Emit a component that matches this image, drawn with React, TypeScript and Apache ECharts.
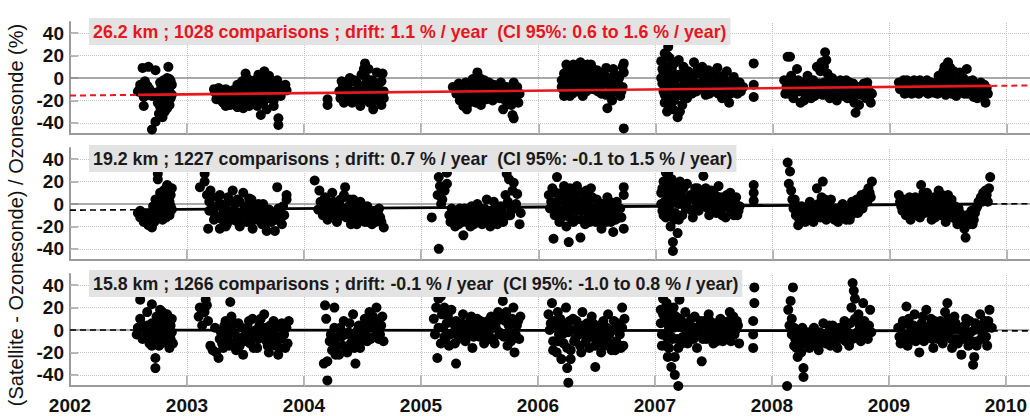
import React, { useEffect, useRef } from "react";
import * as echarts from "echarts";

// Axis ticks
const years = [2002, 2003, 2004, 2005, 2006, 2007, 2008, 2009, 2010];
const percentTicks = [-40, -20, 0, 20, 40];
const dottedPercents = [-40, -20, 20, 40];
const dottedYears = [2003, 2004, 2005, 2006, 2007, 2008, 2009, 2010];

// Panel captions and fitted drift per altitude
const panelLabels = [
  "26.2 km ; 1028 comparisons ; drift: 1.1 % / year  (CI 95%: 0.6 to 1.6 % / year)",
  "19.2 km ; 1227 comparisons ; drift: 0.7 % / year  (CI 95%: -0.1 to 1.5 % / year)",
  "15.8 km ; 1266 comparisons ; drift: -0.1 % / year  (CI 95%: -1.0 to 0.8 % / year)",
];
const driftPerYear = [1.1, 0.7, -0.1];
const trendAt2002 = [-15.7, -5.5, 0.0];
const fitStart = [2002.58, 2002.58, 2002.56];
const fitEnd = [2009.87, 2009.87, 2009.88];

// Relative differences (%) at 26.2 km
const diff26km: [number, number][] = [
  [2002.62,9],[2002.67,10],[2002.73,7],[2002.84,10],[2002.6,-6],[2002.61,-13],[2002.63,-25],[2002.68,-10],[2002.7,-46],[2002.73,-39],
  [2002.74,-13],[2002.77,-4],[2002.77,-18],[2002.78,-30],[2002.79,-35],[2002.8,-14],[2002.83,0],[2002.84,-8],[2002.86,-3],[2002.86,-18],
  [2002.83,-27],[2002.8,-24],[2002.76,-32],[2002.66,-15],[2002.58,-12],[2002.82,-20],[2002.85,-12],[2002.78,-8],[2002.8,-2],[2002.75,-22],
  [2002.87,-6],[2002.7,-16],[2002.64,-3],
  [2002.77,-26],[2002.79,-20],[2002.81,-10],[2002.83,-14],[2002.85,-24],[2002.87,-15],[2002.81,-30],[2002.83,-5],[2002.79,-12],[2002.85,-1],
  [2002.6,-9],[2002.63,-17],[2002.66,-7],
  [2003.23,-10],[2003.24,-13],[2003.26,-16],[2003.28,-12],[2003.3,-15],[2003.32,-18],[2003.34,-13],[2003.36,-20],[2003.38,-16],[2003.4,-22],
  [2003.42,-12],[2003.44,-18],[2003.45,-24],[2003.46,-8],[2003.48,-14],[2003.49,-2],[2003.5,4],[2003.51,-19],[2003.52,-10],[2003.53,-25],
  [2003.55,-6],[2003.56,-15],[2003.58,-2],[2003.58,-21],[2003.6,-10],[2003.61,3],[2003.62,-16],[2003.63,-33],[2003.64,-6],[2003.65,-22],
  [2003.66,6],[2003.67,-12],[2003.68,-28],[2003.69,0],[2003.7,-18],[2003.71,-8],[2003.73,-3],[2003.74,-25],[2003.76,-12],[2003.77,-2],
  [2003.78,-36],[2003.78,-42],[2003.8,-16],[2003.82,-8],[2003.84,-6],[2003.85,-11],[2003.29,-20],[2003.47,-21],[2003.57,-12],[2003.43,-6],
  [2003.25,-19],[2003.27,-9],[2003.31,-22],[2003.33,-10],[2003.35,-16],[2003.37,-24],[2003.39,-11],[2003.41,-18],[2003.43,-26],[2003.45,-15],
  [2003.47,-3],[2003.5,-17],[2003.52,-1],[2003.54,-21],[2003.55,-11],[2003.57,-6],[2003.59,-17],[2003.6,-25],[2003.62,-1],[2003.64,-13],
  [2003.66,-17],[2003.68,-7],[2003.7,2],[2003.72,-13],[2003.74,-20],[2003.75,-6],[2003.63,-9],[2003.48,-27],[2003.33,-25],
  [2004.2,-19],[2004.2,-24],
  [2004.3,-12],[2004.31,-18],[2004.33,-8],[2004.35,-15],[2004.36,-20],[2004.38,-5],[2004.4,-12],[2004.41,-22],[2004.43,-2],[2004.44,-16],
  [2004.46,-9],[2004.47,-20],[2004.49,3],[2004.5,-13],[2004.52,13],[2004.52,-6],[2004.54,-18],[2004.55,8],[2004.56,-10],[2004.58,-2],
  [2004.59,-28],[2004.6,-15],[2004.62,5],[2004.63,-8],[2004.65,-20],[2004.66,-3],[2004.67,4],[2004.68,-12],[2004.48,-25],[2004.39,0],
  [2004.32,-3],[2004.34,-22],[2004.37,-10],[2004.4,-3],[2004.42,-17],[2004.45,-4],[2004.48,-14],[2004.5,-20],[2004.51,8],[2004.53,0],
  [2004.56,-22],[2004.57,-14],[2004.6,-4],[2004.61,-20],[2004.64,-14],[2004.66,-24],[2004.68,-18],
  [2005.27,-8],[2005.3,-14],[2005.33,-20],[2005.35,-10],[2005.36,-25],[2005.38,-4],[2005.4,-16],[2005.41,-22],[2005.43,-8],[2005.44,-1],
  [2005.46,-18],[2005.47,-12],[2005.48,5],[2005.5,-6],[2005.51,-24],[2005.53,-14],[2005.54,-2],[2005.56,-19],[2005.57,-9],[2005.58,-4],
  [2005.6,-15],[2005.62,-6],[2005.65,-10],[2005.67,-18],[2005.68,-4],[2005.7,-28],[2005.71,-14],[2005.73,-8],[2005.74,-22],[2005.76,-12],
  [2005.78,-33],[2005.79,-36],[2005.8,-18],[2005.82,-8],[2005.84,-14],[2005.39,-28],
  [2005.32,-5],[2005.34,-17],[2005.37,-13],[2005.39,-20],[2005.42,-13],[2005.45,-4],[2005.47,-22],[2005.49,-17],[2005.52,-9],[2005.55,-12],
  [2005.57,-16],[2005.59,-8],[2005.61,-20],[2005.66,-14],[2005.69,-10],[2005.72,-20],[2005.75,-16],[2005.77,-24],[2005.81,-12],[2005.83,-22],
  [2005.79,-4],[2005.5,0],
  [2006.2,-2],[2006.21,-10],[2006.22,4],[2006.23,-14],[2006.25,-6],[2006.26,2],[2006.28,-12],[2006.29,8],[2006.3,-4],[2006.32,-9],
  [2006.33,10],[2006.35,0],[2006.36,14],[2006.37,-13],[2006.39,6],[2006.4,-5],[2006.42,12],[2006.43,-10],[2006.45,2],[2006.46,9],
  [2006.48,-3],[2006.5,7],[2006.51,-12],[2006.53,3],[2006.55,-6],[2006.56,5],[2006.58,-15],[2006.59,-27],[2006.6,0],[2006.62,-9],
  [2006.63,-20],[2006.65,4],[2006.66,-12],[2006.68,-4],[2006.7,-16],[2006.72,-8],[2006.73,13],[2006.73,5],[2006.73,-45],[2006.38,-16],
  [2006.27,-16],
  [2006.2,-8],[2006.22,-16],[2006.24,0],[2006.25,8],[2006.27,-4],[2006.29,-14],[2006.31,2],[2006.33,-12],[2006.34,6],[2006.36,-8],
  [2006.38,0],[2006.4,10],[2006.41,-12],[2006.43,4],[2006.44,-4],[2006.47,-10],[2006.48,5],[2006.5,-7],[2006.52,0],[2006.54,-14],
  [2006.57,-4],[2006.58,9],[2006.61,-14],[2006.63,-4],[2006.64,8],[2006.67,-8],[2006.69,0],[2006.71,-12],[2006.72,10],[2006.24,12],
  [2006.3,12],[2006.45,12],
  [2007.05,15],[2007.06,-5],[2007.07,5],[2007.08,22],[2007.08,-15],[2007.09,10],[2007.1,-2],[2007.11,28],[2007.11,-10],[2007.12,18],
  [2007.13,0],[2007.13,-22],[2007.14,8],[2007.15,-28],[2007.16,-6],[2007.17,14],[2007.18,-15],[2007.19,-35],[2007.2,3],[2007.21,-30],
  [2007.22,-10],[2007.24,10],[2007.25,-3],[2007.27,-18],[2007.28,6],[2007.3,-8],[2007.32,2],[2007.33,14],[2007.35,-12],[2007.37,4],
  [2007.38,-5],[2007.4,10],[2007.42,-2],[2007.43,-15],[2007.45,7],[2007.47,-8],[2007.48,3],[2007.5,-12],[2007.52,0],[2007.53,9],
  [2007.55,-6],[2007.57,-18],[2007.58,2],[2007.6,-10],[2007.62,-3],[2007.63,-22],[2007.65,-8],[2007.67,1],[2007.7,-14],[2007.72,-4],
  [2007.75,-8],[2007.84,13],[2007.84,-17],[2007.84,-6],[2007.1,-30],[2007.23,-24],
  [2007.05,0],[2007.06,8],[2007.07,-12],[2007.08,-22],[2007.09,-8],[2007.1,20],[2007.12,-18],[2007.12,5],[2007.14,-5],[2007.15,12],
  [2007.16,-20],[2007.18,0],[2007.2,-8],[2007.22,2],[2007.23,-16],[2007.26,-10],[2007.29,0],[2007.31,-14],[2007.34,-4],[2007.36,8],
  [2007.39,-10],[2007.41,2],[2007.44,-6],[2007.46,-14],[2007.49,-4],[2007.51,6],[2007.54,-14],[2007.56,-2],[2007.59,-8],[2007.61,6],
  [2007.64,-14],[2007.66,-4],[2007.69,-8],[2007.73,-12],[2007.17,-12],[2007.2,16],
  [2008.1,-2],[2008.12,-8],[2008.13,19],[2008.15,19],[2008.14,-14],[2008.16,2],[2008.18,-18],[2008.2,-6],[2008.21,8],[2008.23,-12],
  [2008.24,-22],[2008.26,-4],[2008.28,-14],[2008.3,2],[2008.32,-8],[2008.33,-18],[2008.35,-2],[2008.37,-12],[2008.38,10],[2008.4,-5],
  [2008.42,14],[2008.43,-15],[2008.45,23],[2008.45,-8],[2008.46,16],[2008.47,4],[2008.48,-2],[2008.5,-10],[2008.52,-5],[2008.54,-14],
  [2008.56,-7],[2008.58,-2],[2008.6,-12],[2008.62,-7],[2008.64,-18],[2008.66,-4],[2008.68,-10],[2008.7,-22],[2008.71,-31],[2008.73,-8],
  [2008.75,-15],[2008.78,-5],[2008.8,-18],[2008.82,-10],[2008.84,-22],[2008.85,-14],
  [2008.11,-14],[2008.13,-5],[2008.15,-10],[2008.17,-4],[2008.19,-12],[2008.22,-2],[2008.25,-10],[2008.27,-20],[2008.29,-6],[2008.31,-14],
  [2008.34,-10],[2008.36,-16],[2008.39,-8],[2008.41,-14],[2008.44,-4],[2008.47,-12],[2008.49,-18],[2008.51,0],[2008.53,-9],[2008.55,-20],
  [2008.57,-12],[2008.59,-6],[2008.61,-16],[2008.63,-2],[2008.65,-12],[2008.67,-18],[2008.69,-5],[2008.72,-14],[2008.74,-24],[2008.77,-10],
  [2008.79,-14],[2008.81,-4],[2008.83,-16],[2008.41,6],[2008.44,10],
  [2009.08,-4],[2009.1,-8],[2009.12,-2],[2009.14,-10],[2009.16,-6],[2009.18,-12],[2009.2,-4],[2009.22,-9],[2009.25,-14],[2009.27,-6],
  [2009.3,-10],[2009.32,-2],[2009.35,-8],[2009.38,-13],[2009.4,-4],[2009.42,2],[2009.44,-9],[2009.46,6],[2009.48,-15],[2009.5,14],
  [2009.5,-5],[2009.52,9],[2009.54,-10],[2009.55,-2],[2009.57,-16],[2009.6,5],[2009.62,-8],[2009.64,-14],[2009.66,8],[2009.68,-3],
  [2009.7,-11],[2009.72,-17],[2009.74,-6],[2009.76,-12],[2009.78,-4],[2009.8,-14],[2009.82,-22],[2009.83,-9],
  [2009.09,-10],[2009.11,-4],[2009.13,-14],[2009.15,-2],[2009.17,-8],[2009.19,-14],[2009.21,-2],[2009.24,-8],[2009.26,-2],[2009.28,-12],
  [2009.31,-6],[2009.33,-14],[2009.36,-4],[2009.39,-8],[2009.41,-14],[2009.43,-4],[2009.45,-12],[2009.47,0],[2009.49,-8],[2009.51,2],
  [2009.53,-14],[2009.56,-8],[2009.58,-2],[2009.61,-12],[2009.63,0],[2009.65,-6],[2009.67,-14],[2009.69,-8],[2009.71,-2],[2009.73,-12],
  [2009.75,-18],[2009.77,-8],[2009.79,-16],[2009.81,-6],[2009.84,-14],[2009.47,10],[2009.55,6],
];

// Relative differences (%) at 19.2 km
const diff19km: [number, number][] = [
  [2002.58,-8],[2002.6,-12],[2002.62,-10],[2002.64,-15],[2002.66,-13],[2002.68,-18],[2002.7,-21],[2002.72,-16],[2002.73,4],[2002.74,-6],
  [2002.75,27],[2002.75,22],[2002.76,-12],[2002.77,10],[2002.78,-2],[2002.79,-14],[2002.8,5],[2002.81,-8],[2002.82,14],[2002.83,17],
  [2002.84,0],[2002.85,-10],[2002.86,8],[2002.87,-5],[2002.87,14],[2002.78,2],[2002.71,-2],
  [2002.6,-6],[2002.63,-16],[2002.65,-9],[2002.67,-19],[2002.69,-12],[2002.71,-8],[2002.76,-4],[2002.78,-9],[2002.8,-2],[2002.8,12],
  [2002.82,-12],[2002.83,6],[2002.84,10],[2002.86,-2],[2002.85,2],
  [2003.11,15],[2003.15,27],[2003.15,20],[2003.17,8],[2003.18,-22],[2003.19,2],[2003.2,12],[2003.22,-5],[2003.24,-10],[2003.26,6],
  [2003.28,-22],[2003.28,8],[2003.3,-14],[2003.32,-4],[2003.34,-18],[2003.36,2],[2003.37,-10],[2003.39,12],[2003.4,-6],[2003.42,-15],
  [2003.43,4],[2003.45,-20],[2003.46,-8],[2003.48,10],[2003.5,-2],[2003.51,-16],[2003.53,5],[2003.55,-10],[2003.56,-22],[2003.58,-4],
  [2003.6,-14],[2003.62,-8],[2003.64,-18],[2003.65,0],[2003.67,-12],[2003.68,-24],[2003.7,-5],[2003.72,-16],[2003.74,-8],[2003.75,-24],
  [2003.77,15],[2003.78,-4],[2003.8,-12],[2003.82,-2],[2003.85,8],[2003.85,4],
  [2003.19,-6],[2003.21,6],[2003.23,-14],[2003.25,-2],[2003.27,-12],[2003.29,0],[2003.31,-8],[2003.33,-20],[2003.35,-6],[2003.38,-14],
  [2003.41,0],[2003.44,-12],[2003.47,-16],[2003.49,-4],[2003.52,-10],[2003.54,-2],[2003.57,-14],[2003.59,-8],[2003.61,0],[2003.63,-12],
  [2003.66,-6],[2003.69,-16],[2003.71,-8],[2003.73,-12],[2003.76,-14],[2003.79,-8],[2003.81,-18],[2003.83,-10],[2003.45,2],[2003.55,4],
  [2003.35,6],
  [2004.09,21],[2004.12,-5],[2004.14,2],[2004.16,-10],[2004.18,6],[2004.2,-14],[2004.22,-3],[2004.24,10],[2004.26,-8],[2004.28,-16],
  [2004.3,0],[2004.32,-6],[2004.34,8],[2004.35,15],[2004.36,-12],[2004.38,-2],[2004.4,-18],[2004.42,4],[2004.44,-8],[2004.46,-14],
  [2004.48,2],[2004.5,-6],[2004.52,-16],[2004.54,-2],[2004.56,-10],[2004.58,-18],[2004.6,-6],[2004.62,-12],[2004.64,-4],[2004.66,-16],
  [2004.68,-21],[2004.13,12],
  [2004.15,-2],[2004.17,4],[2004.19,-6],[2004.21,0],[2004.23,-10],[2004.25,2],[2004.27,-4],[2004.29,-12],[2004.31,4],[2004.33,-10],
  [2004.37,-8],[2004.39,4],[2004.41,-12],[2004.43,-4],[2004.45,-18],[2004.47,-8],[2004.49,-12],[2004.51,-2],[2004.53,-10],[2004.55,-16],
  [2004.57,-6],[2004.59,-12],[2004.61,-16],[2004.63,-8],[2004.65,-12],
  [2005.09,-12],[2005.15,-40],[2005.14,8],[2005.15,24],[2005.16,16],[2005.17,0],[2005.18,4],[2005.2,12],[2005.22,28],[2005.22,18],
  [2005.24,-10],[2005.26,-4],[2005.28,-14],[2005.3,-8],[2005.32,-18],[2005.34,-12],[2005.36,-28],[2005.37,-4],[2005.39,-16],[2005.4,-10],
  [2005.42,-20],[2005.44,-6],[2005.46,-14],[2005.48,0],[2005.5,-10],[2005.52,-18],[2005.54,-4],[2005.56,4],[2005.57,-12],[2005.59,-20],
  [2005.6,-6],[2005.62,2],[2005.64,-14],[2005.66,-8],[2005.68,-2],[2005.7,-16],[2005.72,8],[2005.73,27],[2005.75,22],[2005.76,-10],
  [2005.78,12],[2005.79,19],[2005.8,-4],[2005.82,9],[2005.84,-18],[2005.85,-8],
  [2005.25,-16],[2005.27,-8],[2005.29,-20],[2005.31,-12],[2005.33,-4],[2005.35,-16],[2005.38,-10],[2005.41,-14],[2005.43,-2],[2005.45,-18],
  [2005.47,-8],[2005.49,-14],[2005.51,-4],[2005.53,-12],[2005.55,-16],[2005.58,-8],[2005.61,-14],[2005.63,-4],[2005.65,-18],[2005.67,-10],
  [2005.69,-6],[2005.71,-12],[2005.74,2],[2005.77,-4],[2005.81,0],
  [2006.09,8],[2006.1,-4],[2006.12,14],[2006.13,-31],[2006.14,-10],[2006.16,24],[2006.16,2],[2006.18,-16],[2006.2,10],[2006.21,-6],
  [2006.22,16],[2006.24,-20],[2006.25,4],[2006.26,-34],[2006.27,-12],[2006.29,8],[2006.3,-2],[2006.32,-14],[2006.34,12],[2006.36,-30],
  [2006.36,-6],[2006.38,2],[2006.4,-18],[2006.42,6],[2006.43,-10],[2006.45,14],[2006.47,-4],[2006.49,-16],[2006.5,4],[2006.52,-8],
  [2006.54,-22],[2006.55,0],[2006.57,-12],[2006.59,6],[2006.6,-4],[2006.62,-16],[2006.64,-25],[2006.65,-8],[2006.67,2],[2006.69,-12],
  [2006.7,-4],[2006.73,15],[2006.73,8],[2006.73,-22],
  [2006.11,2],[2006.13,-4],[2006.15,10],[2006.17,-8],[2006.19,4],[2006.2,-12],[2006.23,-2],[2006.24,8],[2006.26,-8],[2006.28,0],
  [2006.3,-16],[2006.31,6],[2006.33,-6],[2006.35,2],[2006.37,-14],[2006.39,8],[2006.41,-6],[2006.43,0],[2006.44,-16],[2006.46,6],
  [2006.48,-10],[2006.51,-2],[2006.53,-14],[2006.56,-6],[2006.58,-16],[2006.61,2],[2006.63,-10],[2006.66,-14],[2006.68,-6],[2006.71,-12],
  [2006.27,14],[2006.33,16],[2006.41,12],
  [2007.05,10],[2007.06,-6],[2007.07,20],[2007.08,2],[2007.09,28],[2007.09,-12],[2007.1,14],[2007.11,28],[2007.12,-2],[2007.13,-20],
  [2007.14,22],[2007.15,-34],[2007.15,-42],[2007.16,6],[2007.17,-8],[2007.18,16],[2007.19,-26],[2007.2,0],[2007.22,10],[2007.23,-10],
  [2007.25,4],[2007.27,18],[2007.28,-4],[2007.3,8],[2007.32,-12],[2007.34,14],[2007.35,2],[2007.37,-6],[2007.39,10],[2007.41,25],
  [2007.42,-2],[2007.44,6],[2007.46,-10],[2007.48,12],[2007.5,2],[2007.52,-8],[2007.54,16],[2007.56,-4],[2007.58,6],[2007.6,-12],
  [2007.62,0],[2007.64,10],[2007.66,-6],[2007.68,4],[2007.7,-10],[2007.72,-2],[2007.84,17],[2007.84,10],[2007.84,3],
  [2007.05,0],[2007.06,14],[2007.07,-10],[2007.08,20],[2007.1,-4],[2007.11,8],[2007.12,18],[2007.13,-10],[2007.14,4],[2007.16,-14],
  [2007.17,12],[2007.19,4],[2007.2,-14],[2007.21,20],[2007.23,0],[2007.24,14],[2007.26,-4],[2007.29,4],[2007.31,-6],[2007.33,6],
  [2007.36,14],[2007.38,-2],[2007.4,4],[2007.43,14],[2007.45,-4],[2007.47,4],[2007.49,-6],[2007.51,8],[2007.53,-2],[2007.55,6],
  [2007.57,-10],[2007.59,0],[2007.61,8],[2007.63,-4],[2007.65,2],[2007.67,-10],[2007.69,6],[2007.71,-6],
  [2008.13,37],[2008.15,29],[2008.14,18],[2008.16,12],[2008.17,4],[2008.18,-4],[2008.2,-10],[2008.22,-19],[2008.22,-2],[2008.24,-12],
  [2008.26,-6],[2008.28,-16],[2008.3,-8],[2008.32,2],[2008.34,-14],[2008.36,-4],[2008.38,14],[2008.4,-10],[2008.42,6],[2008.43,20],
  [2008.44,-2],[2008.46,-14],[2008.48,-6],[2008.5,4],[2008.52,-12],[2008.54,-4],[2008.56,-16],[2008.58,-8],[2008.6,0],[2008.62,-10],
  [2008.64,-4],[2008.66,-14],[2008.68,2],[2008.7,-8],[2008.72,4],[2008.74,-6],[2008.76,8],[2008.78,0],[2008.8,10],[2008.82,14],
  [2008.84,6],[2008.85,20],
  [2008.19,4],[2008.21,-6],[2008.23,-14],[2008.25,-2],[2008.27,-10],[2008.29,-4],[2008.31,-12],[2008.33,-6],[2008.35,-16],[2008.37,-8],
  [2008.39,0],[2008.41,-12],[2008.43,-6],[2008.45,4],[2008.47,-10],[2008.49,-2],[2008.51,-8],[2008.53,-14],[2008.55,-6],[2008.57,-12],
  [2008.59,-2],[2008.61,-8],[2008.63,-14],[2008.65,-6],[2008.67,-10],[2008.69,-4],[2008.71,0],[2008.73,-8],[2008.75,2],[2008.77,-4],
  [2008.79,6],[2008.81,2],[2008.83,10],
  [2009.08,8],[2009.1,-2],[2009.12,4],[2009.14,-10],[2009.16,2],[2009.18,-14],[2009.2,-6],[2009.22,6],[2009.24,-4],[2009.26,-12],
  [2009.27,17],[2009.28,2],[2009.3,-8],[2009.32,10],[2009.34,-2],[2009.36,-14],[2009.38,6],[2009.4,-6],[2009.42,12],[2009.44,-10],
  [2009.46,2],[2009.48,-16],[2009.5,8],[2009.52,-4],[2009.54,-12],[2009.56,-2],[2009.58,-18],[2009.6,-8],[2009.62,-14],[2009.64,-22],
  [2009.65,-30],[2009.66,-10],[2009.68,-18],[2009.7,-6],[2009.72,-14],[2009.74,-4],[2009.76,2],[2009.78,6],[2009.8,10],[2009.82,12],
  [2009.84,2],[2009.86,24],
  [2009.09,2],[2009.11,-6],[2009.13,-2],[2009.15,-8],[2009.17,6],[2009.19,-4],[2009.21,0],[2009.23,-10],[2009.25,4],[2009.27,-4],
  [2009.29,10],[2009.31,-2],[2009.33,4],[2009.35,-8],[2009.37,0],[2009.39,-12],[2009.41,4],[2009.43,-4],[2009.45,8],[2009.47,-8],
  [2009.49,0],[2009.51,-10],[2009.53,4],[2009.55,-8],[2009.57,-14],[2009.59,-4],[2009.61,-10],[2009.63,-16],[2009.67,-14],[2009.69,-10],
  [2009.71,-18],[2009.73,-8],[2009.75,-2],[2009.79,2],[2009.81,6],[2009.83,8],[2009.85,14],
];

// Relative differences (%) at 15.8 km
const diff16km: [number, number][] = [
  [2002.57,-4],[2002.58,2],[2002.6,27],[2002.6,10],[2002.62,-8],[2002.63,4],[2002.65,-2],[2002.66,16],[2002.68,-12],[2002.7,23],
  [2002.7,6],[2002.72,-6],[2002.73,-25],[2002.73,-34],[2002.74,12],[2002.75,0],[2002.76,-14],[2002.77,18],[2002.78,-4],[2002.79,8],
  [2002.8,-10],[2002.82,2],[2002.83,14],[2002.84,-8],[2002.85,-16],[2002.86,4],[2002.87,10],[2002.88,-12],
  [2002.66,4],[2002.68,-4],[2002.7,-14],[2002.72,2],[2002.74,-8],[2002.76,6],[2002.78,-12],[2002.8,0],[2002.81,12],[2002.82,-6],
  [2002.84,4],[2002.86,-8],[2002.87,-2],[2002.79,16],
  [2003.1,12],[2003.11,20],[2003.13,4],[2003.15,16],[2003.16,27],[2003.17,22],[2003.18,8],[2003.2,-14],[2003.22,-18],[2003.24,2],
  [2003.25,-20],[2003.27,-25],[2003.28,-8],[2003.3,-12],[2003.32,4],[2003.34,-4],[2003.36,-14],[2003.37,25],[2003.38,12],[2003.4,-2],
  [2003.42,-18],[2003.44,6],[2003.46,-8],[2003.48,-22],[2003.5,-4],[2003.52,2],[2003.54,-12],[2003.56,10],[2003.58,-6],[2003.6,-16],
  [2003.62,4],[2003.64,-2],[2003.66,14],[2003.68,-10],[2003.7,-20],[2003.72,-4],[2003.74,8],[2003.76,-14],[2003.78,-22],[2003.8,-8],
  [2003.82,0],[2003.84,-16],[2003.86,-12],[2003.87,8],
  [2003.29,-2],[2003.31,-16],[2003.33,8],[2003.35,-8],[2003.37,2],[2003.39,-12],[2003.41,6],[2003.43,-6],[2003.45,-14],[2003.47,2],
  [2003.49,-10],[2003.51,-2],[2003.53,8],[2003.55,-6],[2003.57,-16],[2003.59,0],[2003.61,-8],[2003.63,10],[2003.65,-4],[2003.67,2],
  [2003.69,-14],[2003.71,4],[2003.73,-8],[2003.75,2],[2003.77,-6],[2003.79,-16],[2003.81,6],[2003.83,-4],[2003.85,2],
  [2004.17,-30],[2004.18,22],[2004.19,10],[2004.2,-45],[2004.2,-28],[2004.22,-10],[2004.24,-18],[2004.26,2],[2004.28,-14],[2004.3,-22],
  [2004.32,-6],[2004.34,8],[2004.36,-16],[2004.38,-2],[2004.4,-12],[2004.42,14],[2004.44,-30],[2004.45,-8],[2004.47,4],[2004.48,-16],
  [2004.5,-2],[2004.52,10],[2004.54,-10],[2004.56,16],[2004.58,2],[2004.6,-6],[2004.62,20],[2004.63,8],[2004.65,-4],[2004.67,12],
  [2004.68,-10],[2004.26,20],
  [2004.23,-4],[2004.25,-12],[2004.27,-22],[2004.29,-6],[2004.31,2],[2004.33,-14],[2004.35,-4],[2004.37,-20],[2004.39,6],[2004.41,-6],
  [2004.43,-16],[2004.46,0],[2004.49,-10],[2004.51,4],[2004.53,-4],[2004.55,6],[2004.57,-8],[2004.59,12],[2004.61,2],[2004.64,-8],
  [2004.66,4],
  [2005.11,10],[2005.12,-4],[2005.13,20],[2005.14,-25],[2005.15,28],[2005.15,2],[2005.16,40],[2005.17,-12],[2005.18,14],[2005.2,-6],
  [2005.22,6],[2005.24,-14],[2005.26,18],[2005.28,-2],[2005.3,-30],[2005.3,8],[2005.32,-8],[2005.34,4],[2005.36,14],[2005.38,-10],
  [2005.4,0],[2005.42,8],[2005.44,-16],[2005.46,2],[2005.48,10],[2005.5,-6],[2005.52,4],[2005.54,-12],[2005.56,6],[2005.58,-2],
  [2005.6,12],[2005.62,-8],[2005.64,2],[2005.66,16],[2005.68,-4],[2005.7,26],[2005.72,8],[2005.74,-14],[2005.75,40],[2005.76,-2],
  [2005.78,10],[2005.8,-20],[2005.82,4],[2005.84,-8],[2005.85,12],
  [2005.19,2],[2005.21,-10],[2005.23,12],[2005.25,-4],[2005.27,6],[2005.29,-12],[2005.31,2],[2005.33,-4],[2005.35,6],[2005.37,-6],
  [2005.39,4],[2005.41,-4],[2005.43,12],[2005.45,-6],[2005.47,6],[2005.49,-2],[2005.51,8],[2005.53,-4],[2005.55,0],[2005.57,8],
  [2005.59,-8],[2005.61,4],[2005.63,-12],[2005.65,8],[2005.67,-2],[2005.69,10],[2005.71,-6],[2005.73,16],[2005.75,4],[2005.77,-10],
  [2005.79,20],[2005.81,-4],[2005.83,8],[2005.2,20],[2005.17,30],
  [2006.09,14],[2006.1,0],[2006.12,24],[2006.13,-10],[2006.14,8],[2006.16,-20],[2006.17,16],[2006.18,-4],[2006.2,-26],[2006.21,6],
  [2006.22,-12],[2006.24,20],[2006.25,-34],[2006.26,-47],[2006.26,-2],[2006.28,-18],[2006.3,10],[2006.32,-8],[2006.34,2],[2006.36,-14],
  [2006.38,16],[2006.4,-4],[2006.42,6],[2006.44,-16],[2006.46,12],[2006.48,-2],[2006.49,-33],[2006.5,-10],[2006.52,4],[2006.54,-20],
  [2006.56,8],[2006.58,-6],[2006.6,14],[2006.62,-12],[2006.64,0],[2006.66,-18],[2006.68,6],[2006.7,-4],[2006.72,20],[2006.73,-14],
  [2006.74,10],
  [2006.11,6],[2006.13,-18],[2006.15,2],[2006.17,-10],[2006.19,10],[2006.21,-4],[2006.23,2],[2006.25,-16],[2006.27,8],[2006.28,-26],
  [2006.29,0],[2006.31,-10],[2006.33,8],[2006.35,-4],[2006.37,-20],[2006.39,4],[2006.41,-10],[2006.43,0],[2006.45,-6],[2006.47,6],
  [2006.49,-14],[2006.51,2],[2006.53,-8],[2006.55,-2],[2006.57,-14],[2006.59,2],[2006.61,-4],[2006.63,-18],[2006.65,8],[2006.67,-10],
  [2006.69,-2],[2006.71,-16],[2006.72,2],
  [2007.05,18],[2007.06,-4],[2007.07,28],[2007.08,8],[2007.09,-14],[2007.1,24],[2007.11,-24],[2007.12,2],[2007.13,14],[2007.14,-33],
  [2007.15,-8],[2007.16,20],[2007.17,-40],[2007.18,6],[2007.2,-50],[2007.2,-16],[2007.21,27],[2007.22,10],[2007.24,-6],[2007.26,16],
  [2007.28,-12],[2007.3,4],[2007.32,-4],[2007.34,12],[2007.36,-16],[2007.38,2],[2007.4,-28],[2007.42,8],[2007.44,-8],[2007.46,14],
  [2007.48,0],[2007.5,-12],[2007.52,6],[2007.54,-4],[2007.56,10],[2007.58,-10],[2007.6,2],[2007.62,-6],[2007.64,16],[2007.66,4],
  [2007.68,-4],[2007.7,8],[2007.72,-12],[2007.85,38],[2007.85,24],[2007.84,8],[2007.84,-16],[2007.84,-4],
  [2007.05,6],[2007.06,-14],[2007.07,14],[2007.08,-4],[2007.09,20],[2007.1,-6],[2007.11,10],[2007.12,-16],[2007.13,4],[2007.14,-6],
  [2007.15,16],[2007.16,2],[2007.17,-24],[2007.18,12],[2007.19,-8],[2007.21,4],[2007.23,-12],[2007.25,6],[2007.27,0],[2007.29,-6],
  [2007.31,10],[2007.33,-8],[2007.35,2],[2007.37,-2],[2007.39,8],[2007.41,-8],[2007.43,2],[2007.45,-4],[2007.47,8],[2007.49,-6],
  [2007.51,2],[2007.53,-10],[2007.55,4],[2007.57,0],[2007.59,6],[2007.61,-4],[2007.63,8],[2007.65,-10],[2007.67,12],[2007.69,0],
  [2007.71,4],
  [2008.13,-50],[2008.14,18],[2008.16,26],[2008.18,38],[2008.17,10],[2008.19,2],[2008.2,-8],[2008.21,-16],[2008.22,-24],[2008.24,-4],
  [2008.25,-20],[2008.27,-42],[2008.27,-34],[2008.28,-12],[2008.3,-2],[2008.32,-16],[2008.34,-6],[2008.36,2],[2008.38,-10],[2008.4,-18],
  [2008.42,-4],[2008.44,6],[2008.46,-12],[2008.48,-2],[2008.5,-14],[2008.52,4],[2008.54,-6],[2008.56,-16],[2008.58,2],[2008.6,-8],
  [2008.62,8],[2008.64,-4],[2008.66,-14],[2008.68,20],[2008.69,42],[2008.7,35],[2008.71,28],[2008.72,-6],[2008.74,14],[2008.76,-10],
  [2008.78,24],[2008.8,2],[2008.82,-8],[2008.84,18],[2008.85,-2],
  [2008.15,4],[2008.17,-4],[2008.19,-14],[2008.21,-6],[2008.23,-16],[2008.25,-10],[2008.26,2],[2008.29,-8],[2008.31,-4],[2008.33,-12],
  [2008.35,0],[2008.37,-6],[2008.39,-14],[2008.41,-2],[2008.43,-10],[2008.45,-4],[2008.47,-8],[2008.49,4],[2008.51,-6],[2008.53,-12],
  [2008.55,0],[2008.57,-8],[2008.59,-4],[2008.61,2],[2008.63,-10],[2008.65,-2],[2008.67,6],[2008.69,-8],[2008.71,10],[2008.73,-2],
  [2008.75,4],[2008.77,-6],[2008.79,8],[2008.81,-2],[2008.83,4],
  [2009.08,2],[2009.1,-12],[2009.12,8],[2009.14,-4],[2009.15,21],[2009.16,-14],[2009.18,4],[2009.2,-8],[2009.22,14],[2009.24,-2],
  [2009.26,-20],[2009.28,6],[2009.3,-10],[2009.32,18],[2009.34,-4],[2009.36,10],[2009.38,-16],[2009.4,0],[2009.42,-8],[2009.44,8],
  [2009.46,-12],[2009.48,16],[2009.5,24],[2009.5,-4],[2009.52,4],[2009.54,-16],[2009.56,12],[2009.58,-8],[2009.6,2],[2009.62,-22],
  [2009.64,-6],[2009.66,10],[2009.68,-14],[2009.7,-2],[2009.72,-31],[2009.73,-24],[2009.74,6],[2009.76,-10],[2009.78,14],[2009.8,-4],
  [2009.82,8],[2009.84,-14],[2009.86,18],[2009.88,2],
  [2009.09,-6],[2009.11,4],[2009.13,-8],[2009.17,10],[2009.19,-2],[2009.21,4],[2009.23,-10],[2009.25,2],[2009.27,-4],[2009.29,12],
  [2009.31,2],[2009.33,-6],[2009.35,4],[2009.37,-8],[2009.39,8],[2009.41,-4],[2009.43,2],[2009.45,-6],[2009.47,4],[2009.49,-2],
  [2009.51,10],[2009.53,-8],[2009.55,0],[2009.57,6],[2009.59,-12],[2009.61,0],[2009.63,-8],[2009.65,4],[2009.67,-6],[2009.69,8],
  [2009.71,-10],[2009.73,0],[2009.75,-14],[2009.77,4],[2009.79,-8],[2009.81,2],[2009.83,-6],[2009.85,8],
];

const panelData = [diff26km, diff19km, diff16km];
const trendColors = ["#e8161d", "#000000", "#000000"];
const captionColors = ["#e8161d", "#1a1a1a", "#1a1a1a"];

const X_MIN = 2002;
const X_MAX = 2010.2;
const FONT = "'Liberation Sans', Arial, Helvetica, sans-serif";
const AXIS_GREY = "#9a9a9a";

function buildOption(): echarts.EChartsOption {
  const gridTops = [22, 148, 274];
  const grids = gridTops.map((top) => ({ left: 70, right: 0, top, height: 112 }));

  const xAxes = gridTops.map((_, i) => ({
    type: "value" as const,
    gridIndex: i,
    min: X_MIN,
    max: X_MAX,
    axisLine: { show: true, onZero: false, lineStyle: { color: AXIS_GREY, width: 2 } },
    axisTick: { show: true, inside: true, length: 10, customValues: years, lineStyle: { color: AXIS_GREY, width: 1.5 } },
    axisLabel: {
      show: i === 2,
      customValues: years,
      margin: 10,
      color: "#111",
      fontFamily: FONT,
      fontWeight: "bold" as const,
      fontSize: 19,
      formatter: (v: number) => String(v),
    },
    splitLine: { show: false },
  }));

  const yAxes = gridTops.map((_, i) => ({
    type: "value" as const,
    gridIndex: i,
    min: -50,
    max: 50,
    axisLine: { show: true, lineStyle: { color: AXIS_GREY, width: 2 } },
    axisTick: { show: true, inside: true, length: 8, customValues: percentTicks, lineStyle: { color: AXIS_GREY, width: 1.5 } },
    axisLabel: {
      customValues: percentTicks,
      margin: 6,
      color: "#111",
      fontFamily: FONT,
      fontWeight: "bold" as const,
      fontSize: 19,
    },
    splitLine: { show: false },
  }));

  const series: any[] = [];
  panelData.forEach((pts, i) => {
    // background grid: dotted guides plus the solid zero line, kept beneath the points
    series.push({
      type: "line",
      xAxisIndex: i,
      yAxisIndex: i,
      data: [],
      z: 1,
      silent: true,
      markLine: {
        z: 1,
        silent: true,
        symbol: ["none", "none"],
        label: { show: false },
        animation: false,
        data: [
          ...dottedPercents.map((v) => ({ yAxis: v, lineStyle: { type: "dotted", color: "#c4c4c4", width: 1 } })),
          ...dottedYears.map((v) => ({ xAxis: v, lineStyle: { type: "dotted", color: "#c4c4c4", width: 1 } })),
          { yAxis: 0, lineStyle: { type: "solid", color: "#8c8c8c", width: 1.6 } },
        ],
      },
    });
    series.push({
      type: "scatter",
      xAxisIndex: i,
      yAxisIndex: i,
      z: 2,
      symbol: "circle",
      symbolSize: 10,
      itemStyle: { color: "#000", opacity: 1 },
      data: pts,
    });
    const at = (t: number) => trendAt2002[i] + driftPerYear[i] * (t - X_MIN);
    series.push({
      type: "line",
      xAxisIndex: i,
      yAxisIndex: i,
      z: 3,
      showSymbol: false,
      symbol: "none",
      lineStyle: { color: trendColors[i], width: i === 0 ? 2.6 : 2.8, type: "solid" },
      data: [[fitStart[i], at(fitStart[i])], [fitEnd[i], at(fitEnd[i])]],
    });
    const dashStyle = { color: trendColors[i], width: i === 0 ? 2 : 1.6, type: [6, 4] };
    series.push({
      type: "line",
      xAxisIndex: i,
      yAxisIndex: i,
      z: 3,
      showSymbol: false,
      symbol: "none",
      lineStyle: dashStyle,
      data: [[X_MIN, at(X_MIN)], [fitStart[i], at(fitStart[i])]],
    });
    series.push({
      type: "line",
      xAxisIndex: i,
      yAxisIndex: i,
      z: 3,
      showSymbol: false,
      symbol: "none",
      lineStyle: dashStyle,
      data: [[fitEnd[i], at(fitEnd[i])], [X_MAX, at(X_MAX)]],
    });
  });

  const captionTops = [18, 145, 270];
  const titles = panelLabels.map((text, i) => ({
    text,
    left: 89,
    top: captionTops[i],
    backgroundColor: "#e3e3e3",
    padding: [5, 4, 4, 4],
    textStyle: {
      color: captionColors[i],
      fontFamily: FONT,
      fontWeight: "bold" as const,
      fontSize: 17.8,
      lineHeight: 18,
    },
  }));

  return {
    animation: false,
    backgroundColor: "#ffffff",
    title: titles,
    grid: grids,
    xAxis: xAxes,
    yAxis: yAxes,
    series,
    graphic: [
      {
        type: "text",
        x: 16,
        y: 215,
        rotation: Math.PI / 2,
        style: {
          text: "(Satellite - Ozonesonde) / Ozonesonde (%)",
          fill: "#111",
          font: `20px ${FONT}`,
          textAlign: "center",
          textVerticalAlign: "middle",
        },
      },
    ],
  } as echarts.EChartsOption;
}

export default function App() {
  const ref = useRef<HTMLDivElement>(null);
  useEffect(() => {
    document.body.style.margin = "0";
    if (!ref.current) return;
    const chart = echarts.init(ref.current, undefined, { renderer: "svg" });
    chart.setOption(buildOption());
    return () => chart.dispose();
  }, []);
  return <div ref={ref} style={{ width: 1030, height: 416 }} />;
}
